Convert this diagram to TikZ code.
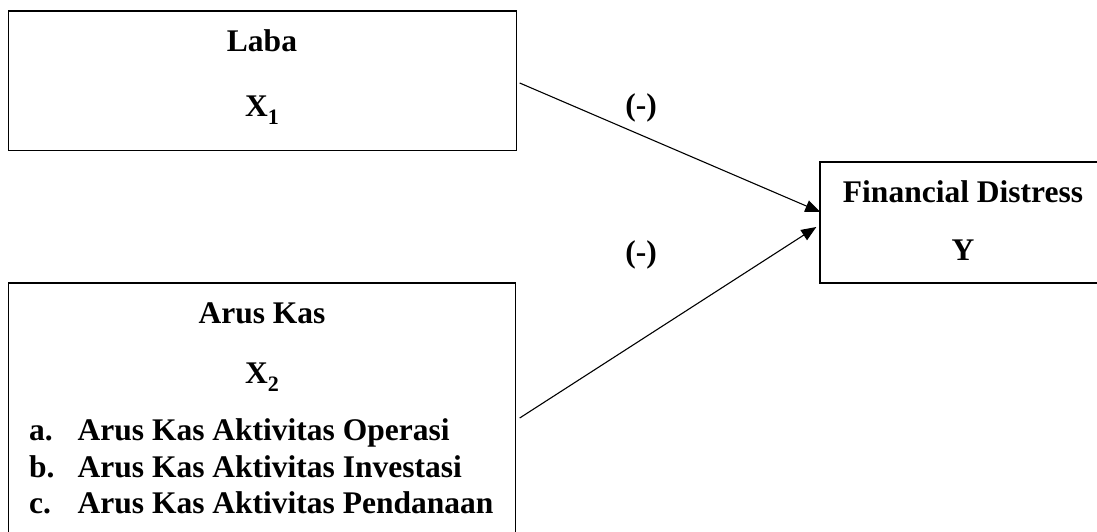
\documentclass[tikz,border=0pt]{standalone}
\usepackage{fontspec}
\setmainfont{Liberation Serif}
\usetikzlibrary{arrows.meta}
\tikzset{
  box/.style={draw, line width=1.4pt, inner sep=0pt},
  txt/.style={font=\fontsize{31.5}{36}\selectfont\bfseries, inner sep=0pt, anchor=base},
  conn/.style={line width=1.1pt, -{Triangle[length=15pt,width=12pt]}},
}
\newcommand{\varsub}[2]{#1\raisebox{-8pt}{\fontsize{22}{24}\selectfont\bfseries #2}}
\begin{document}
\begin{tikzpicture}[x=1pt,y=-1pt]
\useasboundingbox (0,0) rectangle (1097,531);
\clip (0,0) rectangle (1097,531);
% boxes
\node[box, minimum width=508pt, minimum height=139.5pt] (laba) at (262.5,80.75) {};
\node[box, minimum width=320pt, minimum height=121pt] (fin) at (980,222.5) {};
\node[box, minimum width=507pt, minimum height=277pt] (arus) at (262,421.5) {};
% texts
\node[txt] (labaT) at (262,51.5) {Laba};
\node[txt] (labaX) at (262,116) {\varsub{X}{1}};
\node[txt] (finT) at (963,202) {Financial Distress};
\node[txt] (finY) at (963,260) {Y};
\node[txt] (arusT) at (262,323) {Arus Kas};
\node[txt] (arusX) at (262,383) {\varsub{X}{2}};
\node[txt, anchor=base west] (la) at (29,440) {a.};
\node[txt, anchor=base west] (ta) at (77.5,440) {Arus Kas Aktivitas Operasi};
\node[txt, anchor=base west] (lb) at (29,477) {b.};
\node[txt, anchor=base west] (tb) at (77.5,477) {Arus Kas Aktivitas Investasi};
\node[txt, anchor=base west] (lc) at (29,513) {c.};
\node[txt, anchor=base west] (tc) at (77.5,513) {Arus Kas Aktivitas Pendanaan};
% labels
\node[txt] (m1) at (641,115.5) {(-)};
\node[txt] (m2) at (641,262.5) {(-)};
% connectors
\draw[conn] ([xshift=2.5pt,yshift=-2.25pt]laba.east) -- ([xshift=1pt,yshift=10.5pt]fin.west);
\draw[conn] ([xshift=3.5pt,yshift=3.5pt]arus.east) -- ([xshift=-3pt,yshift=-4.5pt]fin.west);
\end{tikzpicture}
\end{document}
